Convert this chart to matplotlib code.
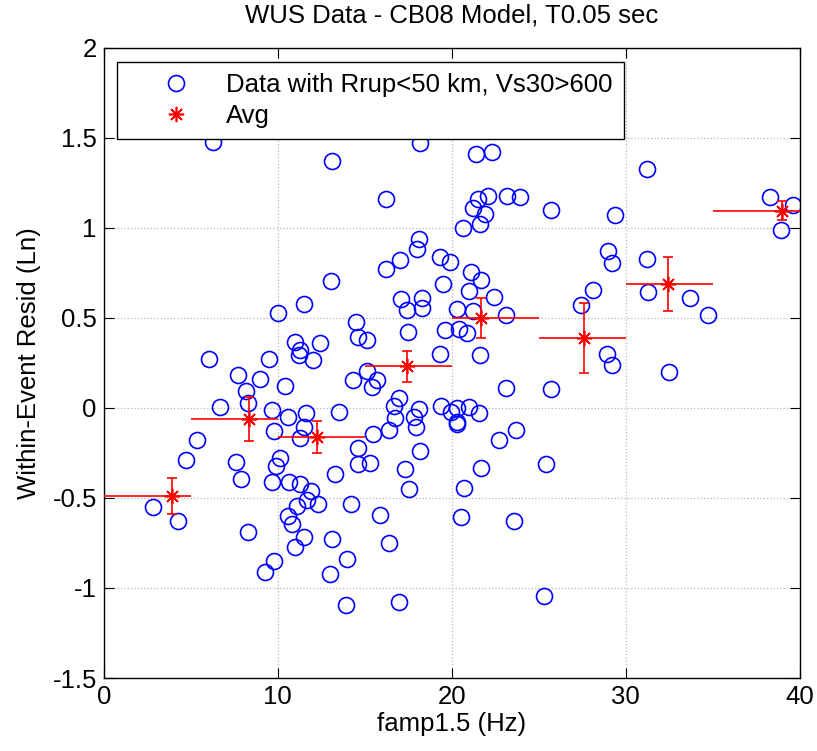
import numpy as np
import matplotlib
matplotlib.use("Agg")
import matplotlib.pyplot as plt
from matplotlib.lines import Line2D

plt.rcParams['font.family'] = ['Liberation Sans', 'DejaVu Sans']

# residual data points (famp1.5, within-event residual)
famp = [6.28, 13.1, 18.2, 21.4, 22.3, 13.05, 16.2, 22.1, 21.5, 21.2,
        21.9, 21.6, 20.65, 23.2, 23.9, 25.7, 18.1, 18.0, 19.3, 19.9,
        17.0, 16.2, 21.1, 21.7, 19.5, 21.0, 31.2, 38.3, 39.6, 38.9,
        29.4, 29.0, 29.2, 31.2, 28.1, 31.3, 33.7, 34.7, 27.4, 28.9,
        29.2, 32.5, 25.7, 25.4, 20.5, 23.6, 25.3, 16.95, 2.85, 4.29,
        8.26, 9.77, 9.27, 10.6, 10.8, 11.1, 11.7, 12.3, 11.5, 11.0,
        13.1, 14.2, 14.0, 13.0, 15.85, 16.4, 13.9, 11.5, 10.0, 11.0,
        11.3, 11.2, 12.4, 12.0, 9.5, 6.03, 7.74, 9.0, 10.4, 8.2,
        8.28, 6.67, 9.67, 10.6, 11.6, 11.5, 13.5, 14.5, 14.3, 9.79,
        11.3, 5.36, 4.71, 10.1, 9.87, 7.6, 7.87, 9.66, 10.65, 11.3,
        11.9, 13.3, 17.1, 18.3, 17.4, 18.3, 20.3, 21.2, 22.45, 23.1,
        19.6, 20.4, 20.9, 17.5, 14.6, 15.15, 19.35, 21.6, 15.1, 15.7,
        15.4, 23.1, 16.95, 16.65, 16.76, 16.4, 18.1, 17.85, 17.95, 19.4,
        20.3, 19.96, 21.0, 21.55, 20.3, 20.3, 23.7, 22.7, 15.45, 18.2,
        14.6, 14.6, 15.3, 17.3, 21.7, 17.55, 20.7]
resid = [1.48, 1.37, 1.47, 1.41, 1.42, 0.707, 1.16, 1.18, 1.16, 1.11,
         1.08, 1.02, 1.00, 1.18, 1.17, 1.10, 0.94, 0.885, 0.84, 0.81,
         0.82, 0.77, 0.754, 0.71, 0.69, 0.65, 1.33, 1.17, 1.13, 0.99,
         1.07, 0.87, 0.805, 0.83, 0.655, 0.645, 0.61, 0.515, 0.572, 0.30,
         0.24, 0.20, 0.107, -0.31, -0.607, -0.63, -1.046, -1.077, -0.552, -0.63,
         -0.69, -0.85, -0.91, -0.60, -0.645, -0.545, -0.51, -0.533, -0.717, -0.77,
         -0.726, -0.535, -0.84, -0.92, -0.597, -0.75, -1.094, 0.575, 0.53, 0.367,
         0.32, 0.296, 0.36, 0.265, 0.27, 0.274, 0.185, 0.16, 0.122, 0.094,
         0.03, 0.005, -0.009, -0.05, -0.026, -0.106, -0.024, 0.48, 0.156, -0.13,
         -0.167, -0.178, -0.287, -0.28, -0.32, -0.298, -0.396, -0.413, -0.41, -0.424,
         -0.46, -0.367, 0.607, 0.613, 0.546, 0.556, 0.548, 0.539, 0.615, 0.515,
         0.435, 0.437, 0.415, 0.42, 0.396, 0.38, 0.30, 0.296, 0.204, 0.156,
         0.118, 0.109, 0.057, 0.013, -0.057, -0.122, -0.005, -0.048, -0.106, 0.011,
         0.002, -0.024, 0.006, -0.03, -0.076, -0.09, -0.122, -0.18, -0.144, -0.237,
         -0.222, -0.313, -0.307, -0.34, -0.332, -0.45, -0.443]

# binned averages
avg_x = [3.95, 8.37, 12.24, 17.4, 21.7, 27.6, 32.4, 38.97]
avg_y = [-0.489, -0.061, -0.161, 0.231, 0.498, 0.39, 0.69, 1.096]
avg_err = [0.10, 0.12, 0.088, 0.087, 0.111, 0.195, 0.15, 0.053]
bin_lo = [0, 5, 10, 15, 20, 25, 30, 35]
bin_hi = [5, 10, 15, 20, 25, 30, 35, 45]

star = (8, 2, 0)  # matlab-like asterisk
fs = 18.5

fig = plt.figure(figsize=(8.17, 7.51), dpi=100)
ax = fig.add_axes([0.127, 0.0972, 0.852, 0.839])

ax.plot(famp, resid, 'o', markerfacecolor='none', markeredgecolor='blue',
        markersize=11.5, markeredgewidth=1.2, zorder=2)
ax.hlines(avg_y, bin_lo, bin_hi, colors='red', linewidth=1.2, zorder=3)
ax.errorbar(avg_x, avg_y, yerr=avg_err, fmt='none', ecolor='red',
            capsize=3.6, elinewidth=1.2, capthick=1.2, zorder=4)
ax.plot(avg_x, avg_y, linestyle='none', marker=star, color='red',
        markersize=11, markeredgewidth=1.2, zorder=5)

ax.set_xlim(0, 40)
ax.set_ylim(-1.5, 2)
ax.set_xticks([0, 10, 20, 30, 40])
ax.set_yticks([-1.5, -1, -0.5, 0, 0.5, 1, 1.5, 2])
ax.set_yticklabels(['-1.5', '-1', '-0.5', '0', '0.5', '1', '1.5', '2'])
ax.grid(True, linestyle=':', color='#b8b8b8', linewidth=0.9)
ax.tick_params(direction='in', length=7, top=True, right=True,
               labelsize=fs, pad=5)
for s in ax.spines.values():
    s.set_linewidth(1.0)

ax.set_xlabel('famp1.5 (Hz)', fontsize=fs, labelpad=2)
ax.set_ylabel('Within-Event Resid (Ln)', fontsize=fs, labelpad=8)
ax.set_title('WUS Data - CB08 Model, T0.05 sec', fontsize=fs, pad=18)

handles = [
    Line2D([], [], linestyle='none', marker='o', markerfacecolor='none',
           markeredgecolor='blue', markersize=11.5, markeredgewidth=1.2),
    Line2D([], [], linestyle='none', marker=star, color='red',
           markersize=11, markeredgewidth=1.2),
]
labels = ['Data with Rrup<50 km, Vs30>600', 'Avg']
leg = ax.legend(handles, labels, loc='upper left',
                bbox_to_anchor=(0.0187, 0.978),
                fontsize=fs, frameon=True, fancybox=False, edgecolor='black',
                handlelength=3.7, handletextpad=0.1, borderaxespad=0,
                borderpad=0.45, labelspacing=0.25, framealpha=1)
leg.get_frame().set_linewidth(1.0)

fig.savefig('out.png', dpi=100)
